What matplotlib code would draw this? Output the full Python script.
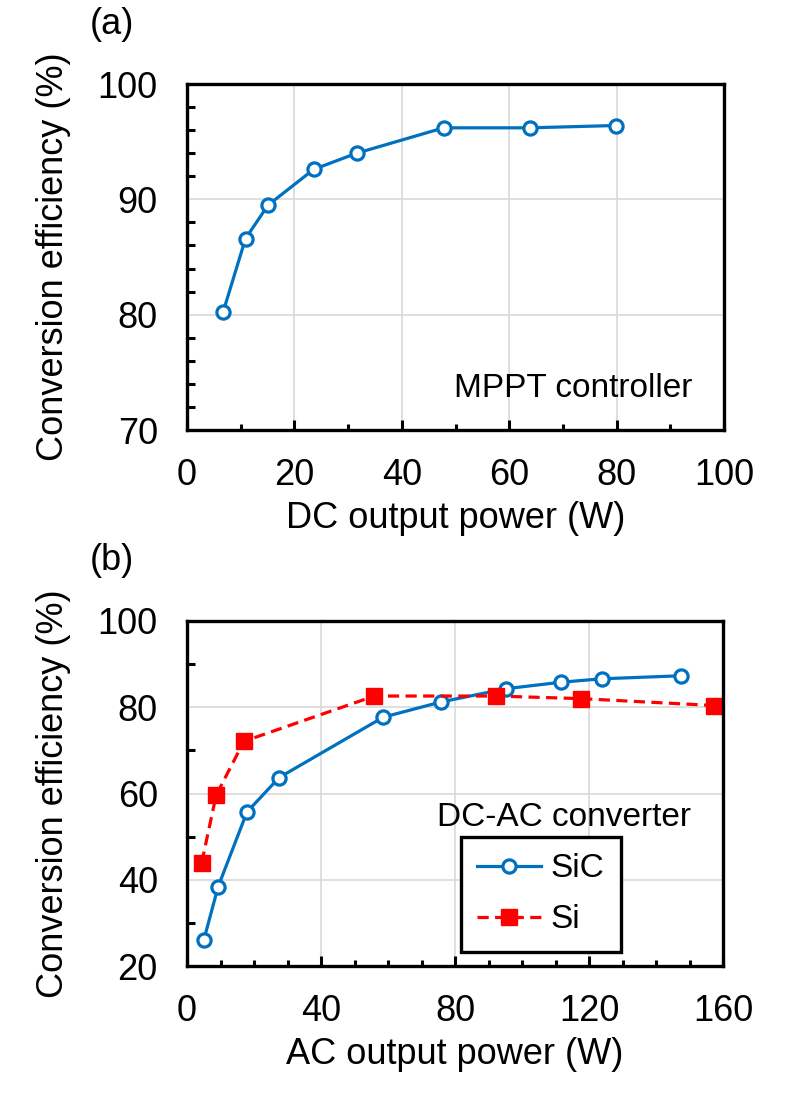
# import libraries
import matplotlib.pyplot as plt
from matplotlib.ticker import MultipleLocator

plt.rcParams['font.family'] = ['Liberation Sans', 'DejaVu Sans']

# data of (a): MPPT controller
dc_power = [6.7, 10.9, 15.1, 23.6, 31.6, 47.8, 63.8, 79.8]
dc_eff = [80.2, 86.6, 89.5, 92.6, 94.0, 96.2, 96.2, 96.4]

# data of (b): DC-AC converter
sic_power = [5.0, 9.3, 17.9, 27.5, 58.6, 75.7, 95.2, 111.6, 123.8, 147.4]
sic_eff = [26.0, 38.4, 55.7, 63.7, 77.7, 81.2, 84.3, 85.8, 86.6, 87.3]
si_power = [4.4, 8.7, 17.0, 55.9, 92.2, 117.6, 157.3]
si_eff = [44.0, 59.6, 72.1, 82.6, 82.6, 82.0, 80.4]

blue = '#0070C0'
red = '#FF0000'
fs = 26

fig = plt.figure(figsize=(7.87, 11.18), dpi=100)
ax1 = fig.add_axes([187/787, 1 - 430/1118, 537/787, 346/1118])
ax2 = fig.add_axes([187/787, 1 - 966/1118, 536/787, 345/1118])


# common axes style
def style(ax, xmax, xmaj, xmin, ymin, ymax, ymaj, ymnr):
    ax.set_xlim(0, xmax)
    ax.set_ylim(ymin, ymax)
    ax.xaxis.set_major_locator(MultipleLocator(xmaj))
    ax.xaxis.set_minor_locator(MultipleLocator(xmin))
    ax.yaxis.set_major_locator(MultipleLocator(ymaj))
    ax.yaxis.set_minor_locator(MultipleLocator(ymnr))
    ax.grid(True, which='major', color='#d9d9d9', linewidth=1.2)
    ax.set_axisbelow(True)
    for sp in ax.spines.values():
        sp.set_linewidth(2.4)
    ax.tick_params(axis='x', which='major', direction='in', length=7.5,
                   width=2.2, labelsize=fs, pad=20)
    ax.tick_params(axis='x', which='minor', direction='in', length=4.5,
                   width=2.2)
    ax.tick_params(axis='y', which='major', direction='in', length=0,
                   labelsize=fs, pad=21)
    ax.tick_params(axis='y', which='minor', direction='in', length=6,
                   width=2.2)
    ax.set_ylabel('Conversion efficiency (%)', fontsize=fs, labelpad=19)


# plot (a)
style(ax1, 100, 20, 10, 70, 100, 10, 2)
ax1.plot(dc_power, dc_eff, color=blue, linewidth=2.3, marker='o',
         markersize=9.5, markerfacecolor='white', markeredgewidth=2.3)
ax1.set_xlabel('DC output power (W)', fontsize=fs, labelpad=6)
ax1.text(94.2, 72.9, 'MPPT controller', fontsize=24, ha='right',
         va='baseline')

# plot (b)
style(ax2, 160, 40, 10, 20, 100, 20, 10)
ax2.plot(sic_power, sic_eff, color=blue, linewidth=2.3, marker='o',
         markersize=9.5, markerfacecolor='white', markeredgewidth=2.3,
         label='SiC')
ax2.plot(si_power, si_eff, color=red, linewidth=2.3, linestyle=(0, (3.5, 2)),
         marker='s', markersize=11, label='Si')
ax2.set_xlabel('AC output power (W)', fontsize=fs, labelpad=6)
ax2.text(150.3, 52.5, 'DC-AC converter', fontsize=24, ha='right',
         va='baseline')

leg = ax2.legend(loc='center', bbox_to_anchor=(0.66, 0.208), fontsize=24,
                 fancybox=False, edgecolor='black', framealpha=1,
                 handlelength=1.9, handletextpad=0.3, borderpad=0.5,
                 labelspacing=0.6, borderaxespad=0)
leg.get_frame().set_linewidth(2.4)

# panel labels
fig.text(112/787, 1 - 25/1118, '(a)', fontsize=fs, ha='center', va='center')
fig.text(112/787, 1 - 560/1118, '(b)', fontsize=fs, ha='center', va='center')

plt.savefig('out.png', dpi=100)
